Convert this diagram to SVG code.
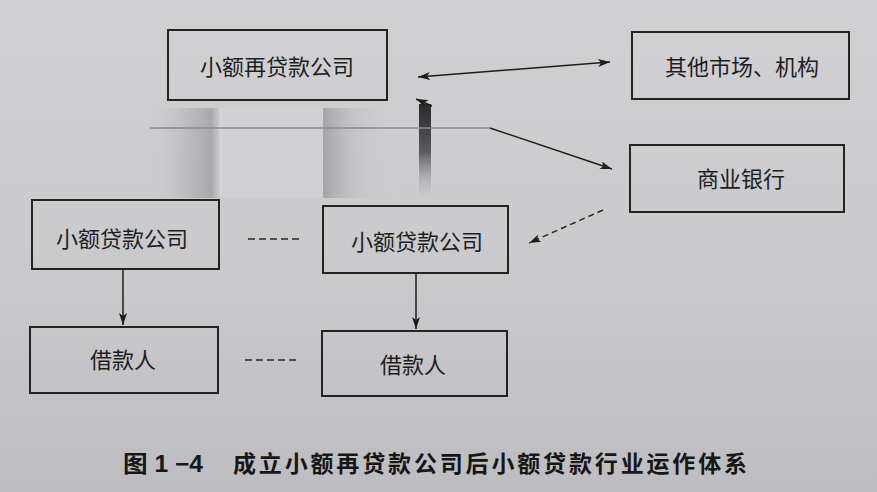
<svg xmlns="http://www.w3.org/2000/svg" width="877" height="492" viewBox="0 0 877 492">
<defs>
<linearGradient id="bg" x1="0" y1="0" x2="0" y2="1">
<stop offset="0" stop-color="#d1d1d4"/>
<stop offset="0.6" stop-color="#c9c9cc"/>
<stop offset="1" stop-color="#bdbcc0"/>
</linearGradient>
<linearGradient id="blurL" x1="0" y1="0" x2="1" y2="0">
<stop offset="0" stop-color="#c8c8ca" stop-opacity="0"/>
<stop offset="0.5" stop-color="#aaa7aa" stop-opacity="0.45"/>
<stop offset="0.85" stop-color="#928e91" stop-opacity="0.6"/>
<stop offset="1" stop-color="#e0e0e2" stop-opacity="0.7"/>
</linearGradient>
<linearGradient id="blurM" x1="0" y1="0" x2="1" y2="0">
<stop offset="0" stop-color="#939498" stop-opacity="0.7"/>
<stop offset="0.4" stop-color="#babac0" stop-opacity="0.45"/>
<stop offset="1" stop-color="#d8d8da" stop-opacity="0"/>
</linearGradient>
<linearGradient id="blurV" x1="0" y1="0" x2="0" y2="1">
<stop offset="0" stop-color="#2a2a2c"/>
<stop offset="0.5" stop-color="#5a5a5c"/>
<stop offset="1" stop-color="#c9c9cc" stop-opacity="0.2"/>
</linearGradient>
<marker id="ah" viewBox="0 0 12 8" refX="12" refY="4" markerWidth="12" markerHeight="8" markerUnits="userSpaceOnUse" orient="auto-start-reverse">
<path d="M0,0 L12,4 L0,8 L3,4 Z" fill="#1e1e1e"/>
</marker>
<style>
.box{fill:none;stroke:#232323;stroke-width:2}
.lbl{font-family:"Liberation Sans","Noto Sans CJK SC",sans-serif;font-size:22px;fill:#1e1e1e;text-anchor:middle}
.ln{stroke:#1e1e1e;stroke-width:1.5;fill:none}
.dsh{stroke:#2a2a2a;stroke-width:1.5;stroke-dasharray:6 4;fill:none}
.cap{font-family:"Liberation Sans","Noto Sans CJK SC",sans-serif;font-size:23px;font-weight:bold;fill:#161616}
</style>
</defs>
<rect width="877" height="492" fill="url(#bg)"/>

<g id="blur">
<rect x="150" y="108" width="72" height="90" fill="url(#blurL)"/>
<rect x="323" y="108" width="80" height="90" fill="url(#blurM)"/>
<rect x="419" y="104" width="12" height="95" fill="url(#blurV)"/>
<rect x="222" y="108" width="101" height="90" fill="#dcdcdf" opacity="0.25"/>
</g>

<g id="connectors">
<line x1="150" y1="128" x2="490" y2="128" stroke="#8a8a8d" stroke-width="1.5"/>
<line class="ln" x1="490" y1="128" x2="612" y2="169" marker-end="url(#ah)"/>
<line class="ln" x1="418" y1="77" x2="610" y2="62" marker-start="url(#ah)" marker-end="url(#ah)"/>
<line class="ln" x1="432" y1="106" x2="416" y2="99" marker-end="url(#ah)"/>
<line class="dsh" x1="603" y1="210" x2="529" y2="243" marker-end="url(#ah)"/>
<line class="ln" x1="123" y1="269" x2="123" y2="325" marker-end="url(#ah)"/>
<line class="ln" x1="416" y1="273" x2="416" y2="329" marker-end="url(#ah)"/>
<line class="dsh" x1="248" y1="239" x2="302" y2="239" style="stroke-dasharray:7 4"/>
<line class="dsh" x1="245" y1="360" x2="299" y2="360" style="stroke-dasharray:7 4"/>
</g>

<g id="zaidai">
<rect class="box" x="168" y="30" width="219" height="70"/>
<text class="lbl" x="277" y="75">小额再贷款公司</text>
</g>
<g id="qita">
<rect class="box" x="632" y="32" width="217" height="67"/>
<text class="lbl" x="742" y="75">其他市场、机构</text>
</g>
<g id="shangye">
<rect class="box" x="630" y="145" width="214" height="67"/>
<text class="lbl" x="741" y="187">商业银行</text>
</g>
<g id="xiaodai1">
<rect class="box" x="32" y="200" width="187" height="69"/>
<text class="lbl" x="122" y="247">小额贷款公司</text>
</g>
<g id="xiaodai2">
<rect class="box" x="323" y="206" width="185" height="67"/>
<text class="lbl" x="417" y="250">小额贷款公司</text>
</g>
<g id="jiekuan1">
<rect class="box" x="30" y="327" width="188" height="66"/>
<text class="lbl" x="123" y="368">借款人</text>
</g>
<g id="jiekuan2">
<rect class="box" x="322" y="331" width="185" height="65"/>
<text class="lbl" x="413" y="373">借款人</text>
</g>

<g id="caption">
<text class="cap" x="123" y="472" textLength="80" lengthAdjust="spacingAndGlyphs">图 1 −4</text>
<text class="cap" x="233" y="472" textLength="514" lengthAdjust="spacing">成立小额再贷款公司后小额贷款行业运作体系</text>
</g>
</svg>
